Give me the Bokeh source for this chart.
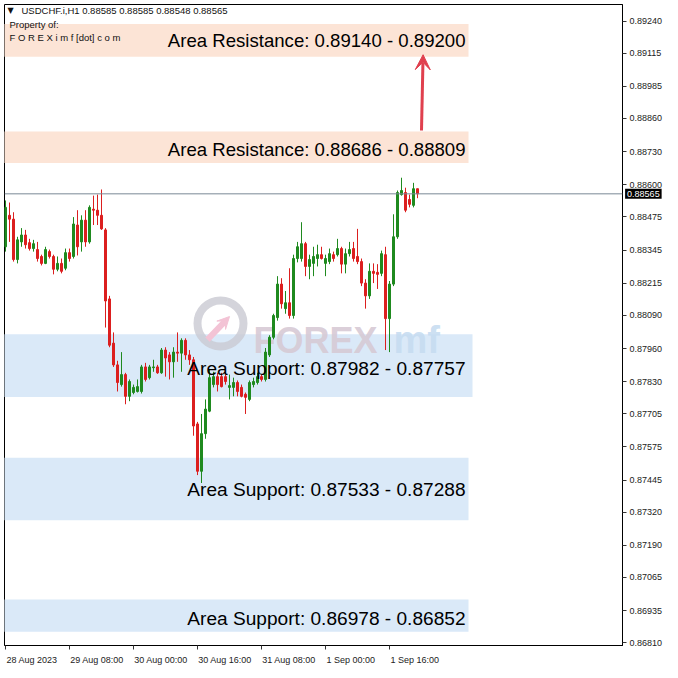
from bokeh.plotting import figure
from bokeh.models import (Range1d, LinearAxis, FixedTicker, Span, Label, Arrow,
                          VeeHead, ColumnDataSource, PrintfTickFormatter)
from bokeh.core.properties import value
from bokeh.embed import file_html
from bokeh.resources import INLINE

# ---------------- data (USDCHF.i H1) ----------------
opens = [0.88358, 0.88481, 0.88466, 0.88308, 0.88377, 0.88404, 0.88374, 0.88351, 0.88347, 0.88320,
         0.88293, 0.88339, 0.88320, 0.88270, 0.88293, 0.88274, 0.88335, 0.88320, 0.88443, 0.88377,
         0.88462, 0.88377, 0.88505, 0.88501, 0.88481, 0.88424, 0.88154, 0.87981, 0.87896, 0.87819,
         0.87858, 0.87773, 0.87788, 0.87792, 0.87792, 0.87888, 0.87846, 0.87885, 0.87888, 0.87865,
         0.87954, 0.87935, 0.87908, 0.87946, 0.87942, 0.87992, 0.87935, 0.87916, 0.87665, 0.87480,
         0.87627, 0.87715, 0.87819, 0.87850, 0.87850, 0.87850, 0.87808, 0.87808, 0.87827, 0.87808,
         0.87781, 0.87761, 0.87819, 0.87827, 0.87850, 0.87839, 0.87935, 0.88004, 0.88081, 0.88212,
         0.88116, 0.88139, 0.88089, 0.88312, 0.88312, 0.88370, 0.88281, 0.88293, 0.88312, 0.88327,
         0.88293, 0.88300, 0.88327, 0.88327, 0.88351, 0.88290, 0.88331, 0.88351, 0.88320, 0.88300,
         0.88216, 0.88166, 0.88262, 0.88258, 0.88254, 0.88327, 0.88077, 0.88212, 0.88397, 0.88562,
         0.88570, 0.88543, 0.88520, 0.88585]
highs = [0.88539, 0.88531, 0.88493, 0.88397, 0.88431, 0.88424, 0.88389, 0.88385, 0.88377, 0.88327,
         0.88358, 0.88347, 0.88327, 0.88320, 0.88312, 0.88351, 0.88351, 0.88474, 0.88501, 0.88481,
         0.88501, 0.88520, 0.88558, 0.88562, 0.88582, 0.88431, 0.88166, 0.88023, 0.87912, 0.87946,
         0.87865, 0.87839, 0.87819, 0.87839, 0.87896, 0.87904, 0.87896, 0.87916, 0.87896, 0.87962,
         0.87965, 0.87946, 0.87965, 0.88023, 0.88000, 0.88000, 0.87954, 0.87927, 0.87673, 0.87704,
         0.87761, 0.87877, 0.87869, 0.87865, 0.87865, 0.87858, 0.87858, 0.87846, 0.87835, 0.87819,
         0.87788, 0.87835, 0.87846, 0.87865, 0.87858, 0.87962, 0.88012, 0.88096, 0.88243, 0.88235,
         0.88185, 0.88274, 0.88327, 0.88377, 0.88454, 0.88377, 0.88327, 0.88358, 0.88366, 0.88358,
         0.88327, 0.88351, 0.88339, 0.88389, 0.88358, 0.88351, 0.88377, 0.88377, 0.88428, 0.88312,
         0.88231, 0.88293, 0.88293, 0.88290, 0.88343, 0.88358, 0.88224, 0.88485, 0.88578, 0.88628,
         0.88589, 0.88562, 0.88608, 0.88585]
lows = [0.88339, 0.88377, 0.88300, 0.88293, 0.88358, 0.88351, 0.88343, 0.88339, 0.88300, 0.88285,
        0.88290, 0.88312, 0.88250, 0.88262, 0.88254, 0.88266, 0.88300, 0.88312, 0.88324, 0.88339,
        0.88358, 0.88370, 0.88443, 0.88443, 0.88424, 0.88042, 0.87965, 0.87888, 0.87792, 0.87811,
        0.87742, 0.87754, 0.87781, 0.87788, 0.87784, 0.87831, 0.87839, 0.87869, 0.87861, 0.87861,
        0.87850, 0.87839, 0.87846, 0.87908, 0.87869, 0.87916, 0.87896, 0.87619, 0.87465, 0.87434,
        0.87607, 0.87711, 0.87808, 0.87792, 0.87808, 0.87819, 0.87761, 0.87773, 0.87773, 0.87769,
        0.87704, 0.87754, 0.87808, 0.87819, 0.87831, 0.87831, 0.87927, 0.87996, 0.88069, 0.88116,
        0.88096, 0.88077, 0.88077, 0.88297, 0.88300, 0.88243, 0.88231, 0.88243, 0.88281, 0.88308,
        0.88243, 0.88290, 0.88300, 0.88320, 0.88254, 0.88254, 0.88320, 0.88300, 0.88290, 0.88204,
        0.88116, 0.88154, 0.88216, 0.88193, 0.88243, 0.87954, 0.87946, 0.88204, 0.88389, 0.88558,
        0.88493, 0.88512, 0.88512, 0.88548]
closes = [0.88512, 0.88466, 0.88308, 0.88385, 0.88404, 0.88366, 0.88351, 0.88370, 0.88312, 0.88293,
          0.88347, 0.88320, 0.88270, 0.88293, 0.88262, 0.88335, 0.88312, 0.88447, 0.88358, 0.88462,
          0.88377, 0.88512, 0.88501, 0.88481, 0.88428, 0.88146, 0.87973, 0.87896, 0.87827, 0.87858,
          0.87773, 0.87831, 0.87808, 0.87811, 0.87888, 0.87839, 0.87888, 0.87888, 0.87865, 0.87954,
          0.87923, 0.87908, 0.87946, 0.87942, 0.87992, 0.87935, 0.87916, 0.87657, 0.87480, 0.87627,
          0.87723, 0.87846, 0.87850, 0.87819, 0.87811, 0.87831, 0.87815, 0.87827, 0.87792, 0.87773,
          0.87769, 0.87827, 0.87831, 0.87850, 0.87839, 0.87946, 0.88004, 0.88089, 0.88212, 0.88135,
          0.88139, 0.88089, 0.88312, 0.88358, 0.88370, 0.88281, 0.88308, 0.88320, 0.88327, 0.88312,
          0.88312, 0.88331, 0.88312, 0.88351, 0.88290, 0.88331, 0.88347, 0.88312, 0.88300, 0.88216,
          0.88166, 0.88262, 0.88254, 0.88250, 0.88331, 0.88077, 0.88212, 0.88397, 0.88570, 0.88578,
          0.88501, 0.88524, 0.88585, 0.88565]

price_ticks = [0.89240, 0.89115, 0.88985, 0.88860, 0.88730, 0.88600, 0.88475, 0.88345, 0.88215,
               0.88090, 0.87960, 0.87830, 0.87705, 0.87575, 0.87445, 0.87320, 0.87190, 0.87065,
               0.86935, 0.86810]
time_tick_bars = [0, 16, 32, 48, 64, 80, 96]
time_tick_labels = ["28 Aug 2023", "29 Aug 08:00", "30 Aug 00:00", "30 Aug 16:00",
                    "31 Aug 08:00", "1 Sep 00:00", "1 Sep 16:00"]

current_price = 0.88565
header_text = "USDCHF.i,H1  0.88585 0.88585 0.88548 0.88565"

res_top = [0.89229, 0.88809]
res_bottom = [0.89101, 0.88686]
res_text = ["Area Resistance: 0.89140 - 0.89200", "Area Resistance: 0.88686 - 0.88809"]
res_text_y = [0.89163, 0.88740]

sup_top = [0.88016, 0.87533, 0.86978]
sup_bottom = [0.87770, 0.87288, 0.86852]
sup_text = ["Area Support: 0.87982 - 0.87757", "Area Support: 0.87533 - 0.87288",
            "Area Support: 0.86978 - 0.86852"]
sup_text_y = [0.87881, 0.87407, 0.86906]

arrow_from = 0.88813
arrow_to = 0.89109

# ---------------- figure ----------------
FONT = "Liberation Sans"
GREEN = "#1F8A1F"
RED = "#DC1F1F"

p = figure(frame_width=618, frame_height=641,
           x_range=Range1d(-0.25, 154.25), y_range=Range1d(0.867985, 0.893055),
           output_backend="svg", toolbar_location=None,
           x_axis_location=None, y_axis_location=None,
           min_border_left=4, min_border_top=4, min_border_right=0, min_border_bottom=0,
           background_fill_color="white", border_fill_color="white")
p.outline_line_color = "black"
p.outline_line_width = 1
for g in p.grid:
    g.visible = False

# zones
p.quad(left=[-2] * 2, right=[115.75, 115.75], top=res_top, bottom=res_bottom,
       fill_color="#FCE4D6", line_color=None)
p.quad(left=[-2] * 3, right=[116.75, 115.75, 115.75], top=sup_top, bottom=sup_bottom,
       fill_color="#DAE9F8", line_color=None)

# watermark
p.scatter(x=[53.75], y=[0.88058], size=46, marker="circle", fill_alpha=0,
          line_color="#C9C9D2", line_width=8, line_alpha=0.8)
p.add_layout(Arrow(end=VeeHead(size=12, fill_color="#F3C3D5", line_color="#F3C3D5"),
                   x_start=50.5, y_start=0.87995, x_end=56.0, y_end=0.88085,
                   line_color="#F3C3D5", line_width=6))
p.text(x=[62], y=[0.87992], text=["FOREX"], text_font=value(FONT), text_font_style="bold",
       text_font_size="36px", text_color="#D6C9D4", text_alpha=0.9,
       text_baseline="alphabetic", text_align="left")
p.text(x=[97], y=[0.87992], text=["mf"], text_font=value(FONT), text_font_style="bold",
       text_font_size="38px", text_color="#C6DCF1", text_alpha=0.9,
       text_baseline="alphabetic", text_align="left")

# current price line
p.add_layout(Span(location=current_price, dimension="width", line_color="#7A8896", line_width=1))

# candles
idx = list(range(len(opens)))
colors = [GREEN if c >= o else RED for o, c in zip(opens, closes)]
src = ColumnDataSource(dict(
    x=idx, high=highs, low=lows,
    top=[max(o, c) for o, c in zip(opens, closes)],
    bottom=[min(o, c) for o, c in zip(opens, closes)],
    color=colors))
p.segment(x0="x", y0="high", x1="x", y1="low", source=src, line_color="color", line_width=1)
p.vbar(x="x", width=0.5, top="top", bottom="bottom", source=src,
       fill_color="color", line_color="color", line_width=1)

# zone texts
p.text(x=[115] * 2, y=res_text_y, text=res_text, text_align="right", text_baseline="middle",
       text_font=value(FONT), text_font_size="18.6px", text_color="black")
p.text(x=[115] * 3, y=sup_text_y, text=sup_text, text_align="right", text_baseline="middle",
       text_font=value(FONT), text_font_size="19.1px", text_color="black")

# arrow
p.add_layout(Arrow(end=VeeHead(size=15, fill_color="#E0404E", line_color="#E0404E"),
                   x_start=104.0, y_start=arrow_from, x_end=104.4, y_end=arrow_to,
                   line_color="#E0404E", line_width=3))

# header texts
p.text(x=[0.5], y=[0.89282], text=["\u25BC"], text_font=value("DejaVu Sans"),
       text_font_size="8px", text_color="#111111", text_baseline="middle")
p.text(x=[4.0], y=[0.89282], text=[header_text], text_font=value(FONT),
       text_font_size="9.5px", text_color="#111111", text_baseline="middle")
p.text(x=[1.0], y=[0.89229], text=["Property of:"], text_font=value(FONT),
       text_font_size="9.5px", text_color="#111111", text_baseline="middle")
p.text(x=[1.0], y=[0.89178], text=["F O R E X i m f [dot] c o m"], text_font=value(FONT),
       text_font_size="9.5px", text_color="#111111", text_baseline="middle")

# right price axis
yaxis = LinearAxis(ticker=FixedTicker(ticks=price_ticks),
                   formatter=PrintfTickFormatter(format="%.5f"),
                   major_tick_out=4, major_tick_in=0, minor_tick_out=0, minor_tick_in=0,
                   axis_line_color="black", major_tick_line_color="#333333",
                   major_label_text_font=FONT, major_label_text_font_size="9px",
                   major_label_text_color="#222222", major_label_standoff=3)
p.add_layout(yaxis, "right")

# bottom time axis: minor ticks mark the bars, labels start at each tick
label_half = [6.6, 6.9, 6.9, 6.9, 6.9, 6.3, 6.3]
label_pos = [b + h for b, h in zip(time_tick_bars, label_half)]
xaxis = LinearAxis(ticker=FixedTicker(ticks=label_pos, minor_ticks=time_tick_bars),
                   major_label_overrides=dict(zip(label_pos, time_tick_labels)),
                   major_tick_out=0, major_tick_in=0, minor_tick_out=4, minor_tick_in=0,
                   axis_line_color="black", minor_tick_line_color="#333333",
                   major_label_text_font=FONT, major_label_text_font_size="9px",
                   major_label_text_color="#222222", major_label_standoff=5)
p.add_layout(xaxis, "below")

# current price box on the price scale (placed in the right side panel so it is not clipped)
p.add_layout(Label(x=154.9, y=current_price, text="0.88565", text_baseline="middle",
                   text_align="left", text_color="white", text_font=FONT,
                   text_font_size="9px", background_fill_color="black", padding=2), "right")

open("out.html", "w").write(file_html(p, INLINE))
